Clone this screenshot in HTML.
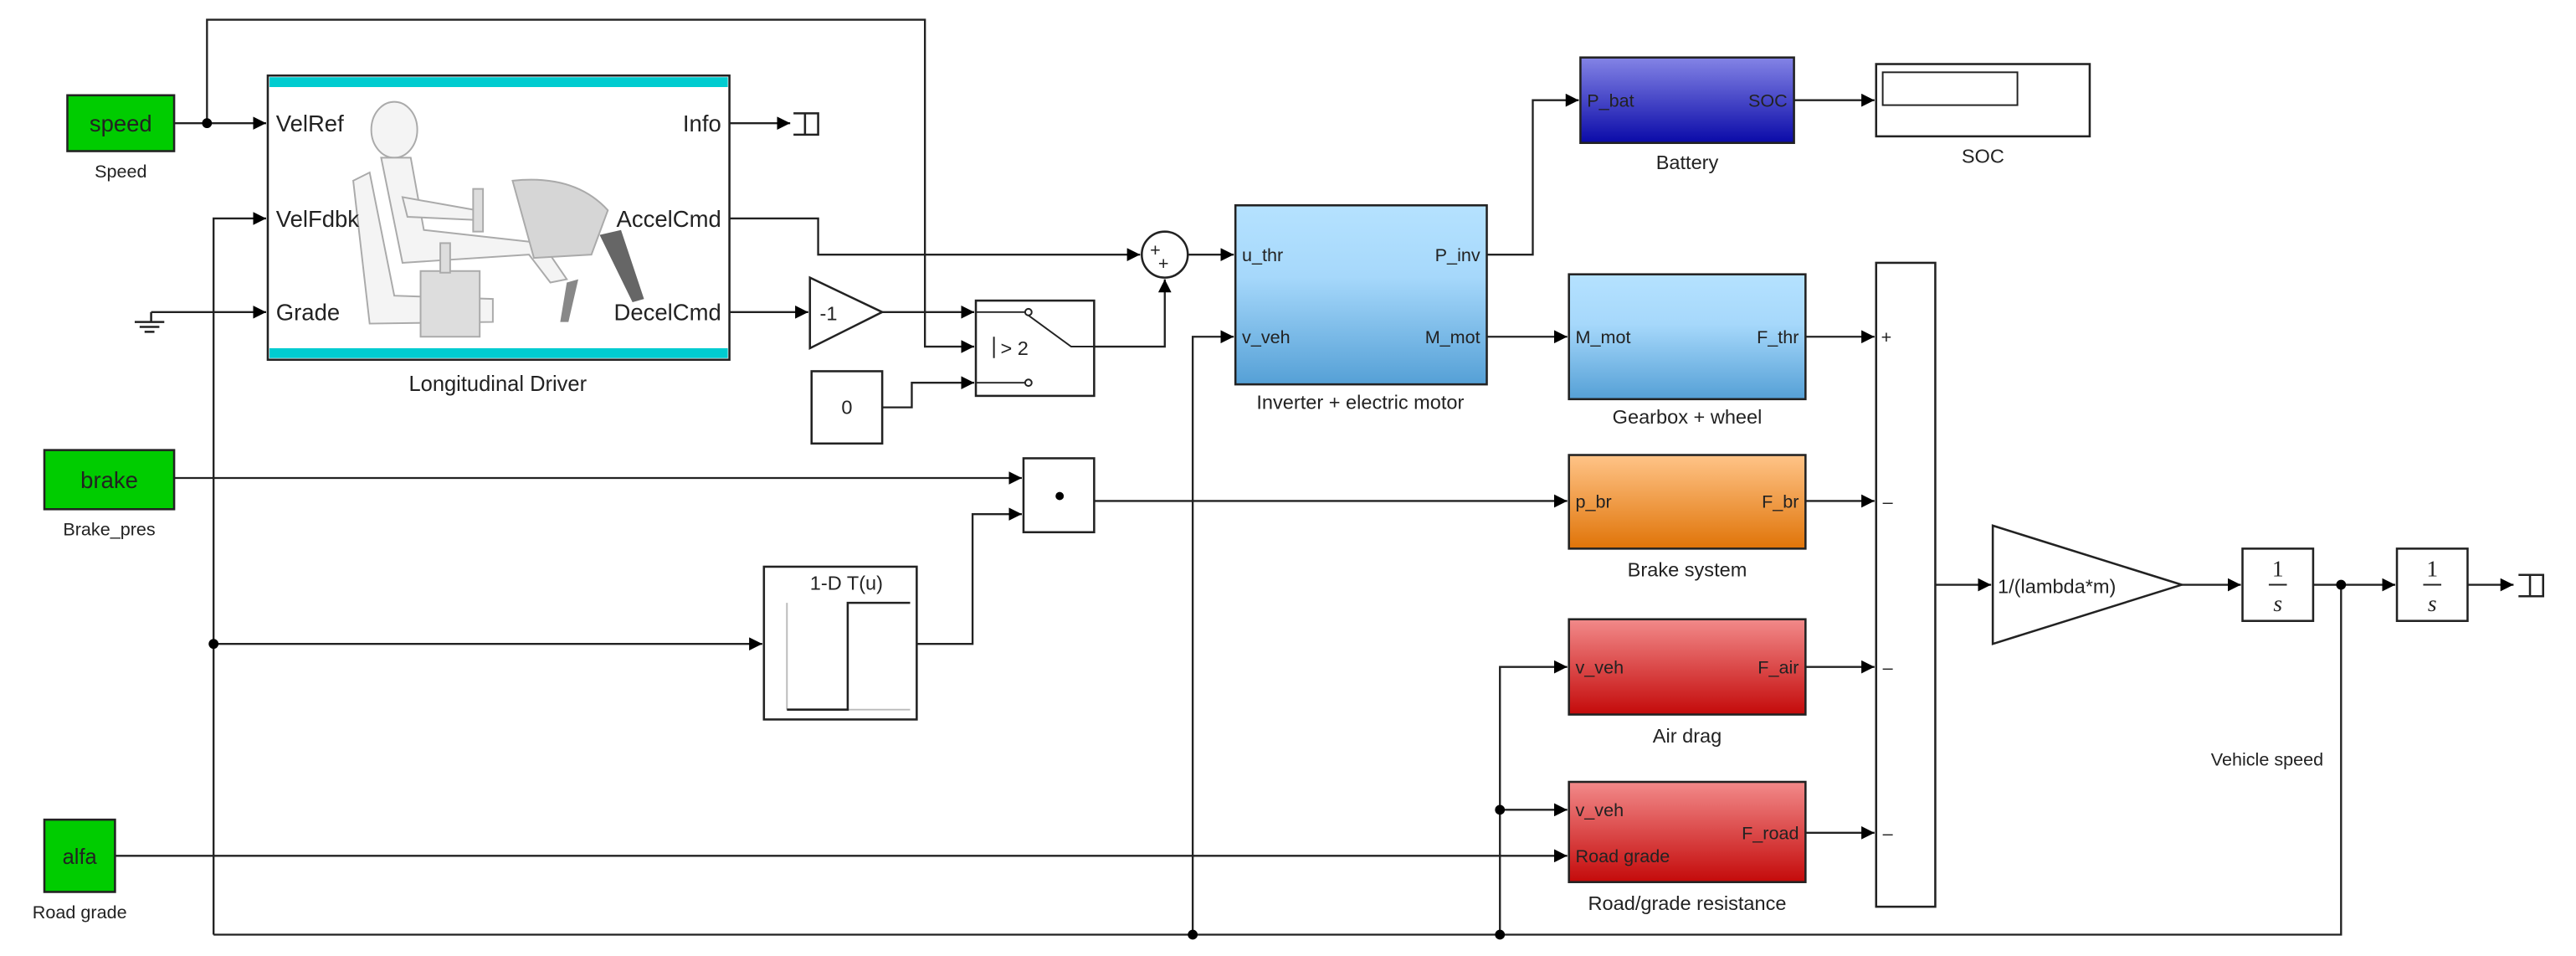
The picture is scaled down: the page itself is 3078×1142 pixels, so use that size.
<!DOCTYPE html>
<html><head><meta charset="utf-8"><style>
html,body{margin:0;padding:0;background:#fff}
svg{display:block}
text{font-family:"Liberation Sans",Arial,sans-serif;fill:#222}
</style></head><body>
<svg width="3078" height="1142" viewBox="0 0 1568 582" preserveAspectRatio="none" xmlns="http://www.w3.org/2000/svg">
<defs>
<marker id="a" markerWidth="8" markerHeight="8" refX="8" refY="4" orient="auto" markerUnits="userSpaceOnUse"><path d="M0,0 L8,4 L0,8 z" fill="#000"/></marker>
<linearGradient id="gb" x1="0" y1="0" x2="0" y2="1"><stop offset="0" stop-color="#b5e2ff"/><stop offset="0.4" stop-color="#a6d8fb"/><stop offset="1" stop-color="#55a0d6"/></linearGradient>
<linearGradient id="gbat" x1="0" y1="0" x2="0" y2="1"><stop offset="0" stop-color="#8484e6"/><stop offset="1" stop-color="#0a0aa8"/></linearGradient>
<linearGradient id="go" x1="0" y1="0" x2="0" y2="1"><stop offset="0" stop-color="#ffc488"/><stop offset="1" stop-color="#e07408"/></linearGradient>
<linearGradient id="gr" x1="0" y1="0" x2="0" y2="1"><stop offset="0" stop-color="#f28a8a"/><stop offset="1" stop-color="#c40a0a"/></linearGradient>
</defs>
<g fill="none" stroke="#222" stroke-width="1.2">
<!-- top loop -->
<polyline points="126,75 126,12 563,12 563,211 593,211" marker-end="url(#a)"/>
<line x1="106" y1="75" x2="162" y2="75" marker-end="url(#a)"/>
<line x1="444" y1="75" x2="481" y2="75" marker-end="url(#a)"/>
<polyline points="130,569 130,133 162,133" marker-end="url(#a)"/>
<line x1="92" y1="190" x2="162" y2="190" marker-end="url(#a)"/>
<polyline points="444,133 498,133 498,155 694,155" marker-end="url(#a)"/>
<line x1="444" y1="190" x2="492" y2="190" marker-end="url(#a)"/>
<line x1="537" y1="190" x2="593" y2="190" marker-end="url(#a)"/>
<polyline points="537,248 555,248 555,233 593,233" marker-end="url(#a)"/>
<polyline points="666,211 709,211 709,170" marker-end="url(#a)"/>
<line x1="723" y1="155" x2="751" y2="155" marker-end="url(#a)"/>
<polyline points="726,569 726,205 751,205" marker-end="url(#a)"/>
<polyline points="905,155 933,155 933,61 961,61" marker-end="url(#a)"/>
<line x1="1092" y1="61" x2="1141" y2="61" marker-end="url(#a)"/>
<line x1="905" y1="205" x2="954" y2="205" marker-end="url(#a)"/>
<line x1="1099" y1="205" x2="1141" y2="205" marker-end="url(#a)"/>
<line x1="106" y1="291" x2="622" y2="291" marker-end="url(#a)"/>
<line x1="130" y1="392" x2="464" y2="392" marker-end="url(#a)"/>
<polyline points="558,392 592,392 592,313 622,313" marker-end="url(#a)"/>
<line x1="666" y1="305" x2="954" y2="305" marker-end="url(#a)"/>
<line x1="1099" y1="305" x2="1141" y2="305" marker-end="url(#a)"/>
<polyline points="1425,356 1425,569 130,569"/>
<polyline points="913,569 913,406 954,406" marker-end="url(#a)"/>
<line x1="913" y1="493" x2="954" y2="493" marker-end="url(#a)"/>
<line x1="70" y1="521" x2="954" y2="521" marker-end="url(#a)"/>
<line x1="1099" y1="406" x2="1141" y2="406" marker-end="url(#a)"/>
<line x1="1099" y1="507" x2="1141" y2="507" marker-end="url(#a)"/>
<line x1="1178" y1="356" x2="1212" y2="356" marker-end="url(#a)"/>
<line x1="1328" y1="356" x2="1364" y2="356" marker-end="url(#a)"/>
<line x1="1408" y1="356" x2="1458" y2="356" marker-end="url(#a)"/>
<line x1="1502" y1="356" x2="1530" y2="356" marker-end="url(#a)"/>
</g>
<!-- junction dots -->
<g fill="#000">
<circle cx="126" cy="75" r="3"/><circle cx="130" cy="392" r="3"/><circle cx="726" cy="569" r="3"/>
<circle cx="913" cy="569" r="3"/><circle cx="913" cy="493" r="3"/><circle cx="1425" cy="356" r="3"/>
</g>
<!-- terminators -->
<g fill="none" stroke="#222" stroke-width="1.3">
<polyline points="483,69 498,69 498,82 483,82"/><line x1="490" y1="69" x2="490" y2="82"/>
<polyline points="1533,350 1548,350 1548,363 1533,363"/><line x1="1540" y1="350" x2="1540" y2="363"/>
<!-- ground -->
<line x1="92" y1="190" x2="92" y2="196"/><line x1="82" y1="196" x2="100" y2="196"/><line x1="85" y1="199" x2="97" y2="199"/><line x1="88" y1="202" x2="94" y2="202"/>
</g>
<!-- green inports -->
<rect x="41" y="58" width="65" height="34" fill="#00cc00" stroke="#222" stroke-width="1.3"/>
<text x="73.5" y="80" font-size="14" text-anchor="middle">speed</text>
<text x="73.5" y="108" font-size="11" text-anchor="middle">Speed</text>
<rect x="27" y="274" width="79" height="36" fill="#00cc00" stroke="#222" stroke-width="1.3"/>
<text x="66.5" y="297" font-size="14" text-anchor="middle">brake</text>
<text x="66.5" y="326" font-size="11" text-anchor="middle">Brake_pres</text>
<rect x="27" y="499" width="43" height="44" fill="#00cc00" stroke="#222" stroke-width="1.3"/>
<text x="48.5" y="526" font-size="13" text-anchor="middle">alfa</text>
<text x="48.5" y="559" font-size="11" text-anchor="middle">Road grade</text>
<!-- driver -->
<rect x="163" y="46" width="281" height="173" fill="#fff" stroke="#222" stroke-width="1.3"/>
<rect x="164" y="47" width="279" height="6" fill="#00ccd0"/>
<rect x="164" y="212" width="279" height="6" fill="#00ccd0"/>
<g stroke="#aaa" stroke-width="1" fill="#f4f4f4">
<path d="M215,110 L225,105 L240,180 L300,182 L300,196 L225,197 Z"/>
<ellipse cx="240" cy="79" rx="14" ry="17"/>
<path d="M232,96 L250,96 L258,140 L330,148 L345,170 L335,172 L322,155 L245,160 Z"/>
<path d="M245,120 L290,128 L292,134 L248,132 Z"/>
<rect x="256" y="165" width="36" height="40" fill="#ddd"/>
<rect x="268" y="148" width="6" height="18" fill="#ddd"/>
<path d="M312,110 Q350,106 370,128 L360,155 L325,157 Z" fill="#d6d6d6"/>
<rect x="288" y="115" width="6" height="26" fill="#ddd"/>
</g>
<path d="M365,143 L378,140 L392,182 L385,184 Z" fill="#666"/>
<path d="M345,172 L352,170 L346,196 L341,196 Z" fill="#888"/>
<g font-size="14">
<text x="168" y="80">VelRef</text><text x="168" y="138">VelFdbk</text><text x="168" y="195">Grade</text>
<text x="439" y="80" text-anchor="end">Info</text><text x="439" y="138" text-anchor="end">AccelCmd</text><text x="439" y="195" text-anchor="end">DecelCmd</text>
</g>
<text x="303" y="238" font-size="13" text-anchor="middle">Longitudinal Driver</text>
<!-- gain -1 -->
<polygon points="493,169 537,190 493,212" fill="#fff" stroke="#222" stroke-width="1.3"/>
<text x="499" y="195" font-size="12">-1</text>
<!-- switch -->
<rect x="594" y="183" width="72" height="58" fill="#fff" stroke="#222" stroke-width="1.3"/>
<g stroke="#222" fill="#fff" stroke-width="1"><line x1="594" y1="190" x2="624" y2="190"/><circle cx="626" cy="190" r="2"/><line x1="594" y1="233" x2="624" y2="233"/><circle cx="626" cy="233" r="2"/><polyline points="626,192 652,211 666,211" fill="none"/><line x1="605" y1="205" x2="605" y2="218"/></g>
<text x="609" y="216" font-size="12">&gt; 2</text>
<!-- constant -->
<rect x="494" y="226" width="43" height="44" fill="#fff" stroke="#222" stroke-width="1.3"/>
<text x="515.5" y="252" font-size="12" text-anchor="middle">0</text>
<!-- sum circle -->
<circle cx="709" cy="155" r="14" fill="#fff" stroke="#222" stroke-width="1.3"/>
<text x="700" y="156" font-size="11">+</text><text x="705" y="164" font-size="11">+</text>
<!-- product -->
<rect x="623" y="279" width="43" height="45" fill="#fff" stroke="#222" stroke-width="1.3"/>
<circle cx="645" cy="302" r="2.5" fill="#000"/>
<!-- lookup -->
<rect x="465" y="345" width="93" height="93" fill="#fff" stroke="#222" stroke-width="1.3"/>
<text x="493" y="359" font-size="12">1-D T(u)</text>
<line x1="479" y1="367" x2="479" y2="432" stroke="#bbb"/>
<line x1="516" y1="432" x2="554" y2="432" stroke="#bbb"/>
<polyline points="479,432 516,432 516,367 554,367" fill="none" stroke="#222" stroke-width="1.3"/>
<!-- inverter -->
<rect x="752" y="125" width="153" height="109" fill="url(#gb)" stroke="#222" stroke-width="1.3"/>
<g font-size="11"><text x="756" y="159">u_thr</text><text x="756" y="209">v_veh</text><text x="901" y="159" text-anchor="end">P_inv</text><text x="901" y="209" text-anchor="end">M_mot</text></g>
<text x="828" y="249" font-size="12" text-anchor="middle">Inverter + electric motor</text>
<!-- battery -->
<rect x="962" y="35" width="130" height="52" fill="url(#gbat)" stroke="#222" stroke-width="1.3"/>
<g font-size="11"><text x="966" y="65">P_bat</text><text x="1088" y="65" text-anchor="end">SOC</text></g>
<text x="1027" y="103" font-size="12" text-anchor="middle">Battery</text>
<!-- scope -->
<rect x="1142" y="39" width="130" height="44" fill="#fff" stroke="#222" stroke-width="1.3"/>
<rect x="1146" y="44" width="82" height="20" fill="#fff" stroke="#222" stroke-width="1"/>
<text x="1207" y="99" font-size="12" text-anchor="middle">SOC</text>
<!-- gearbox -->
<rect x="955" y="167" width="144" height="76" fill="url(#gb)" stroke="#222" stroke-width="1.3"/>
<g font-size="11"><text x="959" y="209">M_mot</text><text x="1095" y="209" text-anchor="end">F_thr</text></g>
<text x="1027" y="258" font-size="12" text-anchor="middle">Gearbox + wheel</text>
<!-- brake system -->
<rect x="955" y="277" width="144" height="57" fill="url(#go)" stroke="#222" stroke-width="1.3"/>
<g font-size="11"><text x="959" y="309">p_br</text><text x="1095" y="309" text-anchor="end">F_br</text></g>
<text x="1027" y="351" font-size="12" text-anchor="middle">Brake system</text>
<!-- air drag -->
<rect x="955" y="377" width="144" height="58" fill="url(#gr)" stroke="#222" stroke-width="1.3"/>
<g font-size="11"><text x="959" y="410">v_veh</text><text x="1095" y="410" text-anchor="end">F_air</text></g>
<text x="1027" y="452" font-size="12" text-anchor="middle">Air drag</text>
<!-- road -->
<rect x="955" y="476" width="144" height="61" fill="url(#gr)" stroke="#222" stroke-width="1.3"/>
<g font-size="11"><text x="959" y="497">v_veh</text><text x="959" y="525">Road grade</text><text x="1095" y="511" text-anchor="end">F_road</text></g>
<text x="1027" y="554" font-size="12" text-anchor="middle">Road/grade resistance</text>
<!-- sum bar -->
<rect x="1142" y="160" width="36" height="392" fill="#fff" stroke="#222" stroke-width="1.3"/>
<g font-size="11"><text x="1145" y="209">+</text><text x="1146" y="309">–</text><text x="1146" y="410">–</text><text x="1146" y="511">–</text></g>
<!-- gain -->
<polygon points="1213,320 1328,356 1213,392" fill="#fff" stroke="#222" stroke-width="1.3"/>
<text x="1216" y="361" font-size="12">1/(lambda*m)</text>
<!-- integrators -->
<rect x="1365" y="334" width="43" height="44" fill="#fff" stroke="#222" stroke-width="1.3"/>
<rect x="1459" y="334" width="43" height="44" fill="#fff" stroke="#222" stroke-width="1.3"/>
<g font-family="Liberation Serif" font-size="14" text-anchor="middle">
<text x="1386.5" y="351" style="font-family:'Liberation Serif',serif">1</text><text x="1386.5" y="372" font-style="italic" style="font-family:'Liberation Serif',serif">s</text>
<text x="1480.5" y="351" style="font-family:'Liberation Serif',serif">1</text><text x="1480.5" y="372" font-style="italic" style="font-family:'Liberation Serif',serif">s</text>
</g>
<line x1="1381" y1="356" x2="1392" y2="356" stroke="#222"/><line x1="1475" y1="356" x2="1486" y2="356" stroke="#222"/>
<text x="1380" y="466" font-size="11" text-anchor="middle">Vehicle speed</text>
</svg>
</body></html>
